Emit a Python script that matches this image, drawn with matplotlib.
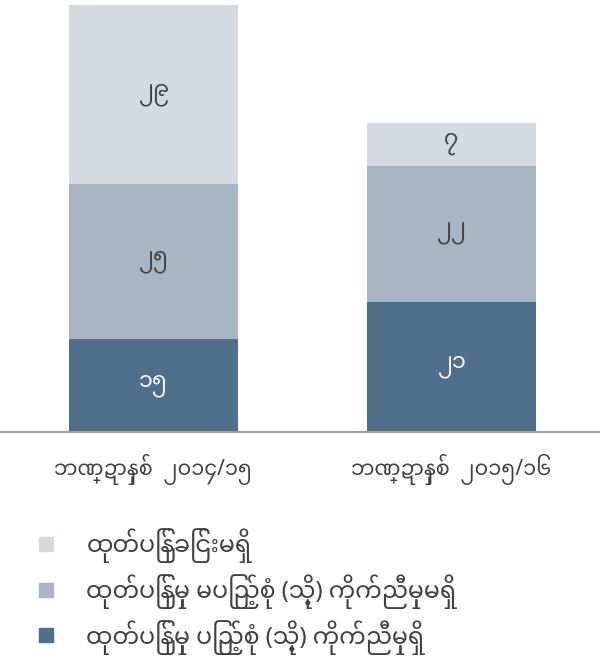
import matplotlib
matplotlib.use("Agg")
import matplotlib.pyplot as plt
from matplotlib import font_manager
from matplotlib.lines import Line2D

# ---- data ----
categories = ["ဘဏ္ဍာနှစ်  ၂၀၁၄/၁၅", "ဘဏ္ဍာနှစ်  ၂၀၁၅/၁၆"]
series_names = [
    "ထုတ်ပြန်မှု ပြည့်စုံ (သို့) ကိုက်ညီမှုရှိ",
    "ထုတ်ပြန်မှု မပြည့်စုံ (သို့) ကိုက်ညီမှုမရှိ",
    "ထုတ်ပြန်ခြင်းမရှိ",
]
values_complete = [15, 21]
values_incomplete = [25, 22]
values_none = [29, 7]
value_labels_complete = ["၁၅", "၂၁"]
value_labels_incomplete = ["၂၅", "၂၂"]
value_labels_none = ["၂၉", "၇"]

colors = ["#4f6f8a", "#a8b5c2", "#d5dae0"]
text_colors = ["white", "#404040", "#404040"]

# ---- find a font with Myanmar glyphs ----
cands = []
try:
    from fontTools.ttLib import TTFont
    for f in font_manager.fontManager.ttflist:
        try:
            tt = TTFont(f.fname, fontNumber=0, lazy=True)
            cmap = tt.getBestCmap()
            if cmap and 0x1000 in cmap and 0x1039 in cmap:
                cands.append(f.name)
        except Exception:
            continue
except Exception:
    pass
cands = sorted(set(cands), key=lambda n: (0 if "Myanmar" in n else 1,
                                          0 if "Noto Sans" in n else 1, n))
families = cands[:1] + ["DejaVu Sans"]
plt.rcParams["font.family"] = families

W, H = 600, 668
fig = plt.figure(figsize=(W / 100, H / 100), dpi=100)
ax = fig.add_axes([0, (H - 432) / H, 1, (432 - 5) / H])

x = list(range(len(categories)))
width = 0.567
stacks = [values_complete, values_incomplete, values_none]
labels = [value_labels_complete, value_labels_incomplete, value_labels_none]
bottom = [0] * len(categories)
for vals, col, lbls, tc in zip(stacks, colors, labels, text_colors):
    ax.bar(x, vals, width, bottom=bottom, color=col, linewidth=0)
    for xi, b, v, l in zip(x, bottom, vals, lbls):
        ax.text(xi, b + v / 2, l, ha="center", va="center", color=tc, fontsize=16)
    bottom = [b + v for b, v in zip(bottom, vals)]

ax.set_xlim(-153.5 / 298, (600 - 153.5) / 298)
ax.set_ylim(0, 69)
for s in ["top", "right", "left"]:
    ax.spines[s].set_visible(False)
ax.spines["bottom"].set_color("#a0a0a0")
ax.spines["bottom"].set_linewidth(1.5)
ax.set_yticks([])
ax.set_xticks(x)
ax.set_xticklabels(categories, fontsize=15, color="#404040")
ax.tick_params(axis="x", length=0, pad=16)

handles = [Line2D([], [], marker="s", linestyle="none", markersize=10,
                  markerfacecolor=c, markeredgecolor=c) for c in colors[::-1]]
fig.legend(handles, series_names[::-1], loc="upper left",
           bbox_to_anchor=(25 / W, 1 - 519 / H), frameon=False,
           fontsize=17, labelcolor="#404040", handletextpad=1.2,
           labelspacing=0.46, handlelength=1.0, borderaxespad=0)

fig.savefig("out.png", dpi=100)
